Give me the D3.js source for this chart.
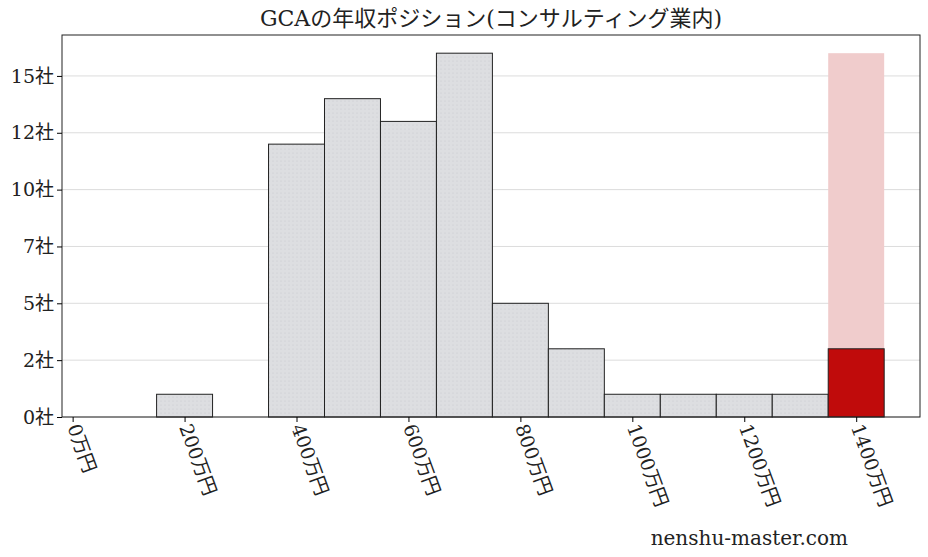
<!DOCTYPE html>
<html><head><meta charset="utf-8">
<script src="https://cdn.jsdelivr.net/npm/d3@7"></script>
<style>body{margin:0;background:#fff}text{font-family:"DejaVu Serif","Noto Sans CJK JP",serif}</style>
</head><body><svg id="c" width="928" height="557"></svg>
<script>
const binStarts = [200,400,500,600,700,800,900,1000,1100,1200,1300];
const binCounts = [1,12,14,13,16,5,3,1,1,1,1];
const highlightBin = 1400, highlightCount = 3, highlightBg = 16;
const xTicks = [0,200,400,600,800,1000,1200,1400];
const yTicks = [0,2.5,5,7.5,10,12.5,15];
const title = "GCAの年収ポジション(コンサルティング業内)";

const svg = d3.select("#c");
const L=62,R=920,T=35,B=417;
const x = d3.scaleLinear().domain([-19,1514]).range([L,R]);
const y = d3.scaleLinear().domain([0,16.8]).range([B,T]);
const defs = svg.append("defs");
const p = defs.append("pattern").attr("id","dots").attr("width",4).attr("height",4).attr("patternUnits","userSpaceOnUse");
p.append("rect").attr("width",4).attr("height",4).attr("fill","#dddee1");
p.append("circle").attr("cx",1).attr("cy",1).attr("r",0.5).attr("fill","#c4c6cc");

svg.append("g").selectAll("line").data(yTicks).join("line")
 .attr("x1",L).attr("x2",R).attr("y1",d=>y(d)).attr("y2",d=>y(d)).attr("stroke","#dcdcdc").attr("stroke-width",1);

svg.append("rect").attr("x",x(highlightBin-50)).attr("width",x(highlightBin+50)-x(highlightBin-50))
 .attr("y",y(highlightBg)).attr("height",B-y(highlightBg)).attr("fill","#f0cccc");

svg.append("g").selectAll("rect").data(binStarts).join("rect")
 .attr("x",d=>x(d-50)).attr("width",d=>x(d+50)-x(d-50))
 .attr("y",(d,i)=>y(binCounts[i])).attr("height",(d,i)=>B-y(binCounts[i]))
 .attr("fill","url(#dots)").attr("stroke","#222").attr("stroke-width",1);
svg.append("rect").attr("x",x(highlightBin-50)).attr("width",x(highlightBin+50)-x(highlightBin-50))
 .attr("y",y(highlightCount)).attr("height",B-y(highlightCount)).attr("fill","#c00b0b").attr("stroke","#222");

svg.append("rect").attr("x",L).attr("y",T).attr("width",R-L).attr("height",B-T).attr("fill","none").attr("stroke","#222");

const ya = svg.append("g").attr("transform",`translate(${L},0)`)
 .call(d3.axisLeft(y).tickValues(yTicks).tickSize(5).tickFormat(d=>Math.floor(d)+"社"));
ya.select(".domain").remove();
ya.selectAll("text").attr("font-size",19).attr("fill","#222").style("font-family",'"DejaVu Serif","Noto Sans CJK JP",serif');

const xa = svg.append("g").attr("transform",`translate(0,${B})`)
 .call(d3.axisBottom(x).tickValues(xTicks).tickSize(5).tickFormat(d=>d+"万円"));
xa.select(".domain").remove();
xa.selectAll("text").attr("font-size",19).attr("fill","#222").attr("text-anchor","start")
 .attr("dy","0").attr("y",0).attr("transform","translate(-6,10) rotate(70)")
 .style("font-family",'"DejaVu Serif","Noto Sans CJK JP",serif');

svg.append("text").attr("x",(L+R)/2).attr("y",26).attr("text-anchor","middle").attr("font-size",22).attr("fill","#222").text(title);
svg.append("text").attr("x",848).attr("y",545).attr("text-anchor","end").attr("font-size",20).attr("fill","#222").text("nenshu-master.com");
</script></body></html>
